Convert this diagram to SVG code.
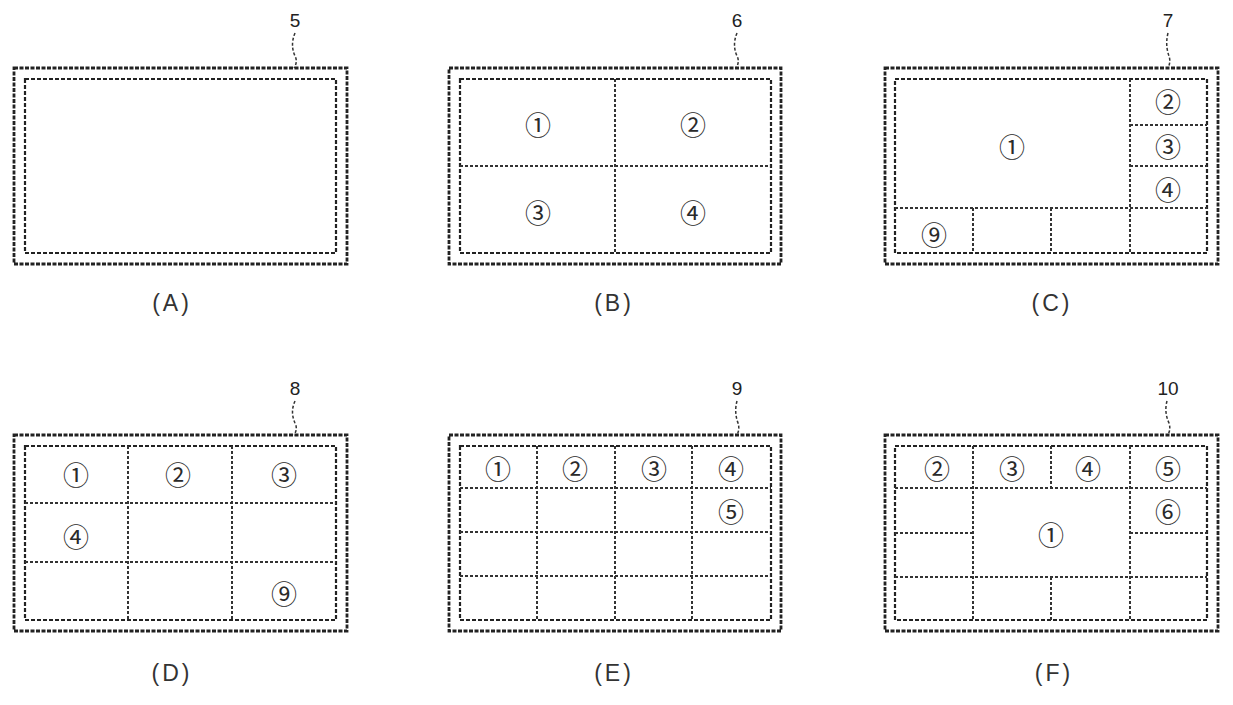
<svg xmlns="http://www.w3.org/2000/svg" width="1233" height="705" viewBox="0 0 1233 705">
<style>
.bg{fill:#fff}
.outer{fill:none;stroke:#222;stroke-width:2.8;stroke-dasharray:4 1.5}
.inner{fill:none;stroke:#222;stroke-width:2.2;stroke-dasharray:4 2}
.div{stroke:#333;stroke-width:2;stroke-dasharray:3 2;fill:none}
.lead{fill:none;stroke:#333;stroke-width:1.5;stroke-dasharray:3 2}
.c{font-family:"Noto Sans CJK JP","DejaVu Sans",sans-serif;font-size:26px;fill:#2a2a2a;text-anchor:middle;dominant-baseline:central}
.ref{font-family:"Liberation Sans",sans-serif;font-size:19px;fill:#222;text-anchor:middle}
.cap{font-family:"Liberation Sans",sans-serif;font-size:23px;fill:#333;text-anchor:middle;letter-spacing:3px}
</style>
<rect class="bg" x="0" y="0" width="1233" height="705"/>
<g id="connectors">
<path class="lead" d="M295 33 Q290 45 295 56 Q298 62 294 68"/>
<path class="lead" d="M737 33 Q732 45 737 56 Q740 62 736 68"/>
<path class="lead" d="M1168 33 Q1165 45 1169 56 Q1171 62 1168 68"/>
<path class="lead" d="M295 401 Q290 412 295 423 Q298 429 294 435"/>
<path class="lead" d="M737 401 Q734 412 738 423 Q740 429 737 435"/>
<path class="lead" d="M1167 401 Q1164 412 1169 423 Q1171 429 1168 435"/>
</g>
<g id="panelA">
<rect class="outer" x="14" y="68" width="333" height="196"/>
<rect class="inner" x="25" y="79" width="311" height="174"/>
<text class="ref" x="295" y="27">5</text>
<text class="cap" x="172" y="311">(A)</text>
</g>
<g id="panelB">
<rect class="outer" x="449" y="68" width="332" height="196"/>
<rect class="inner" x="460" y="79" width="311" height="174"/>
<line class="div" x1="615" y1="79" x2="615" y2="253"/>
<line class="div" x1="460" y1="166" x2="771" y2="166"/>
<text class="c" x="538" y="123">①</text>
<text class="c" x="693" y="123">②</text>
<text class="c" x="538" y="211">③</text>
<text class="c" x="693" y="211">④</text>
<text class="ref" x="737" y="27">6</text>
<text class="cap" x="614" y="311">(B)</text>
</g>
<g id="panelC">
<rect class="outer" x="885" y="68" width="333" height="196"/>
<rect class="inner" x="895" y="79" width="312" height="174"/>
<line class="div" x1="1130" y1="79" x2="1130" y2="253"/>
<line class="div" x1="895" y1="208" x2="1207" y2="208"/>
<line class="div" x1="1130" y1="125" x2="1207" y2="125"/>
<line class="div" x1="1130" y1="166" x2="1207" y2="166"/>
<line class="div" x1="973" y1="208" x2="973" y2="253"/>
<line class="div" x1="1051" y1="208" x2="1051" y2="253"/>
<text class="c" x="1012" y="145">①</text>
<text class="c" x="1168" y="100">②</text>
<text class="c" x="1168" y="145">③</text>
<text class="c" x="1168" y="188">④</text>
<text class="c" x="934" y="233">⑨</text>
<text class="ref" x="1168" y="27">7</text>
<text class="cap" x="1052" y="311">(C)</text>
</g>
<g id="panelD">
<rect class="outer" x="14" y="435" width="333" height="196"/>
<rect class="inner" x="25" y="446" width="311" height="174"/>
<line class="div" x1="128" y1="446" x2="128" y2="620"/>
<line class="div" x1="232" y1="446" x2="232" y2="620"/>
<line class="div" x1="25" y1="503" x2="336" y2="503"/>
<line class="div" x1="25" y1="562" x2="336" y2="562"/>
<text class="c" x="76" y="473">①</text>
<text class="c" x="178" y="473">②</text>
<text class="c" x="284" y="473">③</text>
<text class="c" x="76" y="535">④</text>
<text class="c" x="284" y="592">⑨</text>
<text class="ref" x="295" y="395">8</text>
<text class="cap" x="172" y="681">(D)</text>
</g>
<g id="panelE">
<rect class="outer" x="449" y="435" width="332" height="196"/>
<rect class="inner" x="460" y="446" width="311" height="174"/>
<line class="div" x1="537" y1="446" x2="537" y2="620"/>
<line class="div" x1="615" y1="446" x2="615" y2="620"/>
<line class="div" x1="692" y1="446" x2="692" y2="620"/>
<line class="div" x1="460" y1="488" x2="771" y2="488"/>
<line class="div" x1="460" y1="532" x2="771" y2="532"/>
<line class="div" x1="460" y1="576" x2="771" y2="576"/>
<text class="c" x="498" y="467">①</text>
<text class="c" x="575" y="467">②</text>
<text class="c" x="654" y="467">③</text>
<text class="c" x="731" y="467">④</text>
<text class="c" x="731" y="510">⑤</text>
<text class="ref" x="737" y="395">9</text>
<text class="cap" x="614" y="681">(E)</text>
</g>
<g id="panelF">
<rect class="outer" x="885" y="435" width="333" height="196"/>
<rect class="inner" x="895" y="446" width="312" height="174"/>
<line class="div" x1="973" y1="446" x2="973" y2="620"/>
<line class="div" x1="1130" y1="446" x2="1130" y2="620"/>
<line class="div" x1="1051" y1="446" x2="1051" y2="488"/>
<line class="div" x1="1051" y1="577" x2="1051" y2="620"/>
<line class="div" x1="895" y1="488" x2="1207" y2="488"/>
<line class="div" x1="895" y1="533" x2="973" y2="533"/>
<line class="div" x1="1130" y1="533" x2="1207" y2="533"/>
<line class="div" x1="895" y1="577" x2="1207" y2="577"/>
<text class="c" x="937" y="467">②</text>
<text class="c" x="1012" y="467">③</text>
<text class="c" x="1088" y="467">④</text>
<text class="c" x="1168" y="467">⑤</text>
<text class="c" x="1168" y="510">⑥</text>
<text class="c" x="1051" y="533">①</text>
<text class="ref" x="1168" y="395">10</text>
<text class="cap" x="1054" y="681">(F)</text>
</g>
</svg>
